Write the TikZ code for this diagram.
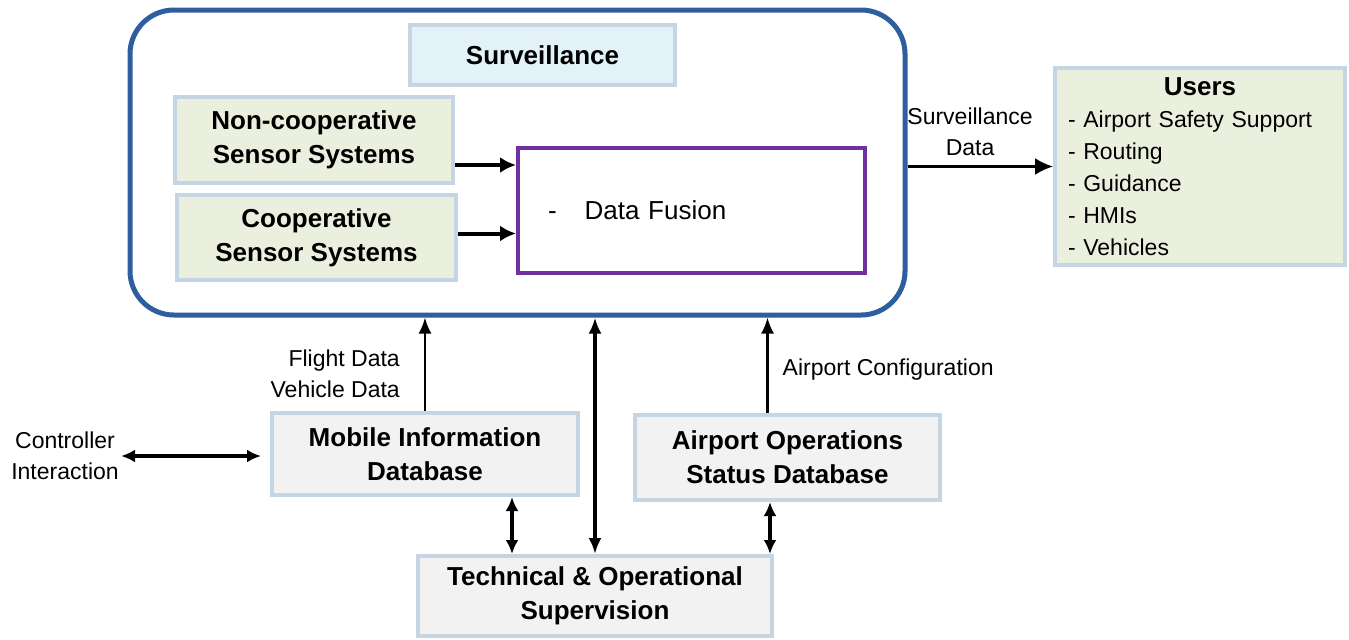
\documentclass[tikz,border=0pt]{standalone}
\usepackage{fontspec}
\setmainfont{Liberation Sans}
\usetikzlibrary{arrows.meta,positioning}

\definecolor{survblue}{HTML}{2F5E9E}
\definecolor{boxedge}{HTML}{C6D5E4}
\definecolor{sensorfill}{HTML}{EBF0DE}
\definecolor{titlefill}{HTML}{E3F1F8}
\definecolor{dbfill}{HTML}{F2F2F2}
\definecolor{fusionedge}{HTML}{7030A0}

\begin{document}
\begin{tikzpicture}[x=0.5pt, y=-0.5pt,
    block/.style={draw=boxedge, line width=2pt, align=center, inner sep=2pt,
        font=\fontsize{13}{17}\selectfont\bfseries},
    annot/.style={font=\fontsize{11.5}{15.5}\selectfont, inner sep=1pt},
    fatarrow/.style={-{Latex[length=8pt,width=8pt]}, line width=2pt},
    thinarrow/.style={-{Latex[length=8pt,width=6.5pt]}, line width=1.2pt},
    linkarrow/.style={{Latex[length=7pt,width=6.5pt]}-{Latex[length=7pt,width=6.5pt]}, line width=1.7pt}]
    \useasboundingbox (0,0) rectangle (1349,639);

    % Surveillance frame
    \node[draw=survblue, line width=2.5pt, rounded corners=22pt,
        minimum width=387.5pt, minimum height=152.5pt] (outer) at (517.5,162.5) {};
    \node[block, fill=titlefill, minimum width=132.5pt, minimum height=30pt] (survtitle) at (542.5,55) {Surveillance};

    % Sensor systems and fusion
    \node[block, fill=sensorfill, minimum width=139pt, minimum height=43pt] (noncoop) at (314,140) {Non-cooperative\\Sensor Systems};
    \node[block, fill=sensorfill, minimum width=139.5pt, minimum height=42.5pt] (coop) at (316.5,237.5) {Cooperative\\Sensor Systems};
    \node[draw=fusionedge, fill=white, line width=2pt, minimum width=173.5pt, minimum height=62.5pt,
        text width=143.5pt, inner xsep=15pt, align=left,
        font=\fontsize{13}{17}\selectfont] (fusion) at (691.5,210.5) {-\hspace{14pt}Data Fusion};

    \coordinate (ncout) at ([yshift=-12.5pt]noncoop.east);
    \coordinate (coout) at ([yshift=2pt]coop.east);
    \draw[fatarrow] (ncout) -- (ncout -| fusion.west);
    \draw[fatarrow] (coout) -- (coout -| fusion.west);

    % Users
    \node[draw=boxedge, line width=2pt, fill=sensorfill, minimum width=145pt, minimum height=98.5pt,
        text width=132pt, inner xsep=6.5pt, align=left,
        font=\fontsize{11.5}{16}\selectfont] (users) at (1200,166.5)
        {\makebox[\linewidth]{\fontsize{13}{16}\selectfont\bfseries Users}\\
         - Airport Safety Support\\- Routing\\- Guidance\\- HMIs\\- Vehicles};
    \draw[-{Latex[length=9pt,width=8.5pt]}, line width=1.2pt] (users.west -| outer.east) -- (users.west)
        node[pos=0.43, above=4pt, annot, align=center] {Surveillance\\Data};

    % Databases
    \node[block, fill=dbfill, minimum width=153pt, minimum height=41pt] (mobile) at (425,454) {Mobile Information\\Database};
    \node[block, fill=dbfill, minimum width=152.5pt, minimum height=42.5pt] (airport) at (787.5,457.5) {Airport Operations\\Status Database};
    \node[block, fill=dbfill, minimum width=177pt, minimum height=40pt] (tech) at (595,596) {Technical \& Operational\\Supervision};
    \node[annot, align=center] (ctrl) at (65,456) {Controller\\Interaction};

    % Links to the surveillance frame
    \draw[thinarrow] (mobile.north) -- (mobile.north |- outer.south)
        node[pos=0.4, left=11pt, annot, align=right] {Flight Data\\Vehicle Data};
    \coordinate (cfgbase) at ([xshift=-10pt]airport.north);
    \draw[thinarrow] (cfgbase) -- (cfgbase |- outer.south)
        node[pos=0.46, right=6pt, annot] {Airport Configuration};
    \draw[{Latex[length=8pt,width=6.5pt]}-{Latex[length=8pt,width=6.5pt]}, line width=1.6pt]
        (tech.north) -- (tech.north |- outer.south);

    % Links to supervision and controller
    \coordinate (mobtech) at ([xshift=43.5pt]mobile.south);
    \coordinate (airtech) at ([xshift=-8.75pt]airport.south);
    \draw[linkarrow] (mobtech) -- (mobtech |- tech.north);
    \draw[linkarrow] (airtech) -- (airtech |- tech.north);
    \draw[linkarrow, line width=1.8pt, shorten >=4.5pt] (ctrl.east) -- (ctrl.east -| mobile.west);
\end{tikzpicture}
\end{document}
